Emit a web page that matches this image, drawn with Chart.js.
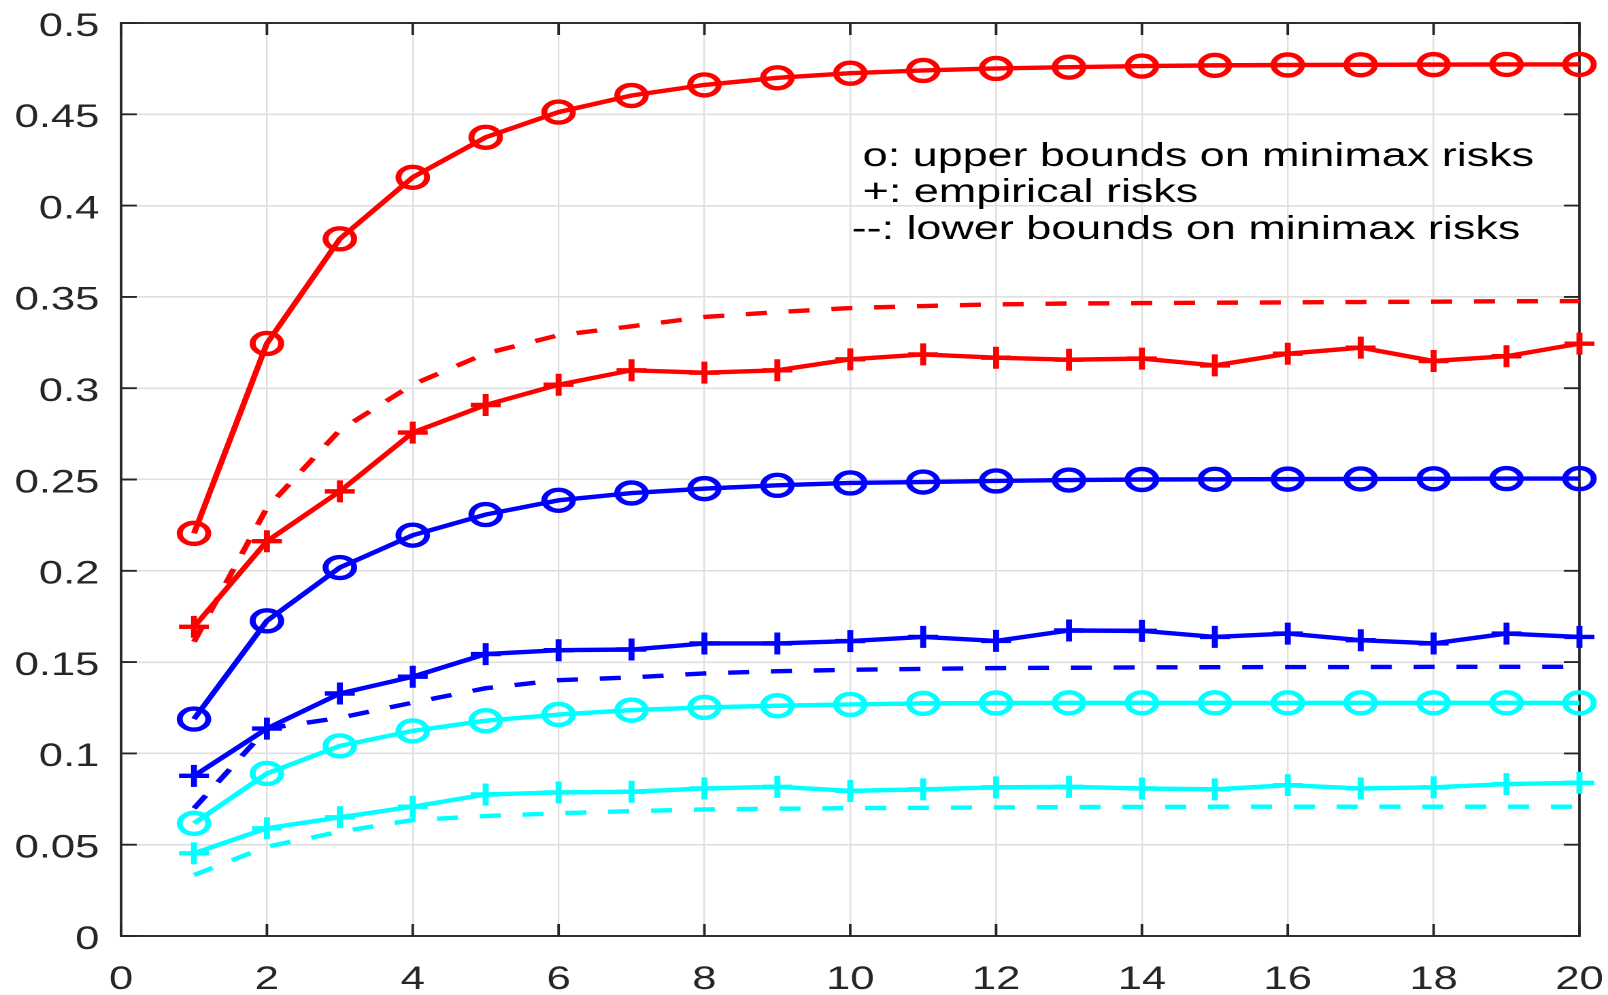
<!DOCTYPE html>
<html>
<head>
<meta charset="utf-8">
<script src="https://cdn.jsdelivr.net/npm/chart.js@4/dist/chart.umd.min.js"></script>
<style>
  html, body { margin: 0; padding: 0; background: #fff; overflow: hidden; }
</style>
</head>
<body>
<!-- the original picture is stretched sideways, so draw narrow and let css widen it -->
<canvas id="riskChart" width="1182" height="995" style="display:block;width:1608px;height:995px"></canvas>
<script>
const sampleSizes = [1, 2, 3, 4, 5, 6, 7, 8, 9, 10, 11, 12, 13, 14, 15, 16, 17, 18, 19, 20];

const redUpper = [0.2205, 0.3245, 0.3818, 0.4155, 0.4374, 0.4512, 0.4603, 0.4661, 0.4700, 0.4725, 0.4740, 0.4751, 0.4758, 0.4764, 0.4768, 0.4770, 0.4771, 0.4772, 0.4773, 0.4773];
const redEmp   = [0.1693, 0.2162, 0.2435, 0.2757, 0.2908, 0.3019, 0.3098, 0.3085, 0.3098, 0.3158, 0.3185, 0.3167, 0.3156, 0.3162, 0.3125, 0.3189, 0.3222, 0.3149, 0.3175, 0.3244];
const redLower = [0.1611, 0.2345, 0.2770, 0.3020, 0.3190, 0.3290, 0.3339, 0.3390, 0.3417, 0.3439, 0.3450, 0.3459, 0.3464, 0.3466, 0.3468, 0.3470, 0.3472, 0.3474, 0.3476, 0.3477];

const blueUpper = [0.1188, 0.1726, 0.2018, 0.2195, 0.2308, 0.2386, 0.2426, 0.2450, 0.2468, 0.2481, 0.2486, 0.2492, 0.2497, 0.2500, 0.2501, 0.2502, 0.2503, 0.2504, 0.2505, 0.2505];
const blueEmp   = [0.0877, 0.1136, 0.1328, 0.1420, 0.1544, 0.1565, 0.1569, 0.1602, 0.1602, 0.1615, 0.1638, 0.1616, 0.1673, 0.1671, 0.1638, 0.1656, 0.1620, 0.1602, 0.1656, 0.1638];
const blueLower = [0.0699, 0.1136, 0.1195, 0.1278, 0.1357, 0.1401, 0.1416, 0.1438, 0.1450, 0.1458, 0.1463, 0.1467, 0.1469, 0.1471, 0.1472, 0.1473, 0.1473, 0.1474, 0.1474, 0.1474];

const cyanUpper = [0.0617, 0.0890, 0.1041, 0.1123, 0.1179, 0.1213, 0.1237, 0.1252, 0.1261, 0.1268, 0.1274, 0.1276, 0.1277, 0.1277, 0.1277, 0.1277, 0.1277, 0.1277, 0.1277, 0.1277];
const cyanEmp   = [0.0453, 0.0590, 0.0650, 0.0708, 0.0775, 0.0786, 0.0790, 0.0808, 0.0817, 0.0795, 0.0803, 0.0814, 0.0817, 0.0808, 0.0803, 0.0826, 0.0808, 0.0814, 0.0832, 0.0839];
const cyanLower = [0.0334, 0.0489, 0.0571, 0.0635, 0.0657, 0.0672, 0.0684, 0.0693, 0.0697, 0.0700, 0.0702, 0.0704, 0.0706, 0.0707, 0.0708, 0.0708, 0.0708, 0.0708, 0.0708, 0.0708];

const xTicks = [0, 2, 4, 6, 8, 10, 12, 14, 16, 18, 20];
const xTickLabels = ['0', '2', '4', '6', '8', '10', '12', '14', '16', '18', '20'];
const yTicks = [0, 0.05, 0.1, 0.15, 0.2, 0.25, 0.3, 0.35, 0.4, 0.45, 0.5];
const yTickLabels = ['0', '0.05', '0.1', '0.15', '0.2', '0.25', '0.3', '0.35', '0.4', '0.45', '0.5'];

const noteLines = [
    ' o: upper bounds on minimax risks',
    ' +: empirical risks',
    '--: lower bounds on minimax risks'
];

const FONT = '"Liberation Sans", Arial, Helvetica, sans-serif';
const AXIS_COLOR = '#262626';
const LW = 4.4;

function pts(values) {
    return values.map((v, i) => ({ x: sampleSizes[i], y: v }));
}

function upper(values, color) {
    return {
        data: pts(values), borderColor: color, borderWidth: LW,
        pointStyle: 'circle', pointRadius: 10.5, pointBorderWidth: LW,
        pointBorderColor: color, pointBackgroundColor: 'rgba(0,0,0,0)',
        fill: false, tension: 0, clip: false
    };
}

function empirical(values, color) {
    return {
        data: pts(values), borderColor: color, borderWidth: LW,
        pointStyle: 'cross', pointRadius: 11, pointBorderWidth: LW,
        pointBorderColor: color, pointBackgroundColor: color,
        fill: false, tension: 0, clip: false
    };
}

function lower(values, color) {
    return {
        data: pts(values), borderColor: color, borderWidth: LW,
        borderDash: [15.5, 16], pointRadius: 0,
        fill: false, tension: 0, clip: false
    };
}

// box round the plot with inward ticks on all four sides
const framePlugin = {
    id: 'frame',
    beforeDatasetsDraw(chart) {
        const { ctx, chartArea: a, scales: { x, y } } = chart;
        ctx.save();
        ctx.strokeStyle = AXIS_COLOR;
        ctx.lineWidth = 1.9;
        ctx.strokeRect(a.left, a.top, a.right - a.left, a.bottom - a.top);
        ctx.beginPath();
        xTicks.forEach(v => {
            const px = x.getPixelForValue(v);
            ctx.moveTo(px, a.bottom); ctx.lineTo(px, a.bottom - 12);
            ctx.moveTo(px, a.top); ctx.lineTo(px, a.top + 12);
        });
        yTicks.forEach(v => {
            const py = y.getPixelForValue(v);
            ctx.moveTo(a.left, py); ctx.lineTo(a.left + 11.5, py);
            ctx.moveTo(a.right, py); ctx.lineTo(a.right - 11.5, py);
        });
        ctx.stroke();
        ctx.restore();
    }
};

const notePlugin = {
    id: 'note',
    afterDraw(chart) {
        const ctx = chart.ctx;
        ctx.save();
        ctx.font = '33px ' + FONT;
        ctx.fillStyle = '#000';
        ctx.textBaseline = 'alphabetic';
        ctx.textAlign = 'left';
        const starts = [625, 625, 626];
        const bases = [166, 202, 239];
        noteLines.forEach((t, i) => ctx.fillText(t, starts[i], bases[i]));
        ctx.restore();
    }
};

new Chart(document.getElementById('riskChart'), {
    type: 'line',
    data: {
        datasets: [
            upper(redUpper, '#ff0000'),
            empirical(redEmp, '#ff0000'),
            lower(redLower, '#ff0000'),
            upper(blueUpper, '#0000ff'),
            empirical(blueEmp, '#0000ff'),
            lower(blueLower, '#0000ff'),
            upper(cyanUpper, '#00ffff'),
            empirical(cyanEmp, '#00ffff'),
            lower(cyanLower, '#00ffff')
        ]
    },
    options: {
        responsive: false,
        devicePixelRatio: 2,
        animation: false,
        events: [],
        layout: { padding: { top: 23, right: 21, bottom: 0, left: 0 } },
        plugins: {
            legend: { display: false },
            tooltip: { enabled: false }
        },
        scales: {
            x: {
                type: 'linear', min: 0, max: 20,
                afterBuildTicks: s => { s.ticks = xTicks.map(v => ({ value: v })); },
                afterFit: s => { s.height = 59; s.paddingLeft = 0; s.paddingRight = 0; },
                border: { display: false },
                grid: { color: '#dfdfdf', lineWidth: 1.2, drawTicks: false },
                ticks: {
                    padding: 25, color: AXIS_COLOR, maxRotation: 0, autoSkip: false,
                    font: { family: FONT, size: 32 },
                    callback: (v, i) => xTickLabels[i]
                }
            },
            y: {
                type: 'linear', min: 0, max: 0.5,
                afterBuildTicks: s => { s.ticks = yTicks.map(v => ({ value: v })); },
                afterFit: s => { s.width = 89; s.paddingTop = 0; s.paddingBottom = 0; },
                border: { display: false },
                grid: { color: '#dfdfdf', lineWidth: 1.6, drawTicks: false },
                ticks: {
                    padding: 16, labelOffset: 4, color: AXIS_COLOR, autoSkip: false,
                    font: { family: FONT, size: 32 },
                    callback: (v, i) => yTickLabels[i]
                }
            }
        }
    },
    plugins: [framePlugin, notePlugin]
});
</script>
</body>
</html>
